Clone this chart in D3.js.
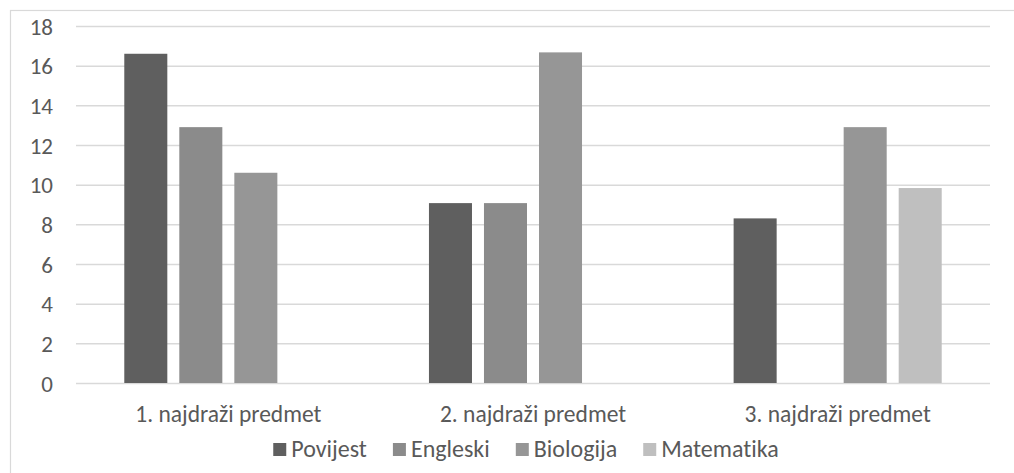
<!DOCTYPE html>
<html>
<head>
<meta charset="utf-8">
<script src="https://cdn.jsdelivr.net/npm/d3@7"></script>
<style>
  html, body { margin: 0; padding: 0; background: #fff; }
  svg { display: block; }
  text { font-family: Carlito, Lato, "Liberation Sans", sans-serif; fill: #595959; font-variant-ligatures: none; }
</style>
</head>
<body>
<svg id="chart" width="1014" height="473"></svg>
<script>
// Categories along the x axis
const categories = ["1. najdraži predmet", "2. najdraži predmet", "3. najdraži predmet"];
// Subjects (one bar per subject in each category)
const seriesNames = ["Povijest", "Engleski", "Biologija", "Matematika"];
const seriesColors = ["#5f5f5f", "#8b8b8b", "#969696", "#bfbfbf"];
// Values per subject, in category order (0 = no bar)
const povijest   = [16.6, 9.07, 8.3];
const engleski   = [12.9, 9.07, 0];
const biologija  = [10.6, 16.67, 12.9];
const matematika = [0, 0, 9.83];
const seriesValues = [povijest, engleski, biologija, matematika];
// Y axis ticks
const yTicks = [0, 2, 4, 6, 8, 10, 12, 14, 16, 18];

const svg = d3.select("#chart");
const W = 1014, H = 473;
const plot = { left: 76, right: 990, top: 26, bottom: 383 };

// chart frame
svg.append("rect")
  .attr("x", 10.5).attr("y", 10.5)
  .attr("width", W + 40).attr("height", H + 40)
  .attr("fill", "none").attr("stroke", "#d9d9d9").attr("stroke-width", 1.2);

const y = d3.scaleLinear().domain([0, 18]).range([plot.bottom, plot.top]);
const x0 = d3.scaleBand().domain(categories).range([plot.left, plot.right]).padding(0);
const groupPad = x0.bandwidth() * 0.1585;
const x1 = d3.scaleBand().domain(seriesNames)
  .range([groupPad, x0.bandwidth() - groupPad])
  .paddingInner(0.218).paddingOuter(0);

// gridlines
const yAxis = d3.axisLeft(y).tickValues(yTicks).tickSize(-(plot.right - plot.left)).tickPadding(23);
const gAxis = svg.append("g").attr("transform", `translate(${plot.left},0)`).call(yAxis);
gAxis.select(".domain").remove();
gAxis.selectAll(".tick line").attr("stroke", "#d9d9d9").attr("stroke-width", 1.5);
gAxis.selectAll(".tick text")
  .attr("fill", "#595959")
  .style("font-size", "23px")
  .attr("dy", "0.36em");

// bars
const rows = categories.map((c, i) => ({
  cat: c,
  vals: seriesNames.map((s, j) => ({ s, j, v: seriesValues[j][i] }))
}));
const groups = svg.append("g").selectAll("g").data(rows).join("g")
  .attr("transform", d => `translate(${x0(d.cat)},0)`);
groups.selectAll("rect").data(d => d.vals.filter(v => v.v > 0)).join("rect")
  .attr("x", d => x1(d.s))
  .attr("width", x1.bandwidth())
  .attr("y", d => y(d.v))
  .attr("height", d => y(0) - y(d.v))
  .attr("fill", d => seriesColors[d.j]);

// x axis category labels
const xAxis = d3.axisBottom(x0).tickSize(0).tickPadding(0);
const gx = svg.append("g").attr("transform", `translate(0,${plot.bottom})`).call(xAxis);
gx.select(".domain").remove();
gx.selectAll(".tick text")
  .attr("fill", "#595959")
  .attr("y", 39).attr("dy", 0)
  .style("font-size", "23.5px");

// legend
const legend = svg.append("g");
let lx = 0;
seriesNames.forEach((s, j) => {
  const item = legend.append("g").attr("transform", `translate(${lx},0)`);
  item.append("rect").attr("x", 0).attr("y", -14).attr("width", 13).attr("height", 13)
    .attr("fill", seriesColors[j]);
  const t = item.append("text").attr("x", 18).attr("y", 0).style("font-size", "24px").text(s);
  lx += 18 + t.node().getComputedTextLength() + 26;
});
const legendW = lx - 26;
legend.attr("transform", `translate(${526 - legendW / 2},457)`);
</script>
</body>
</html>
